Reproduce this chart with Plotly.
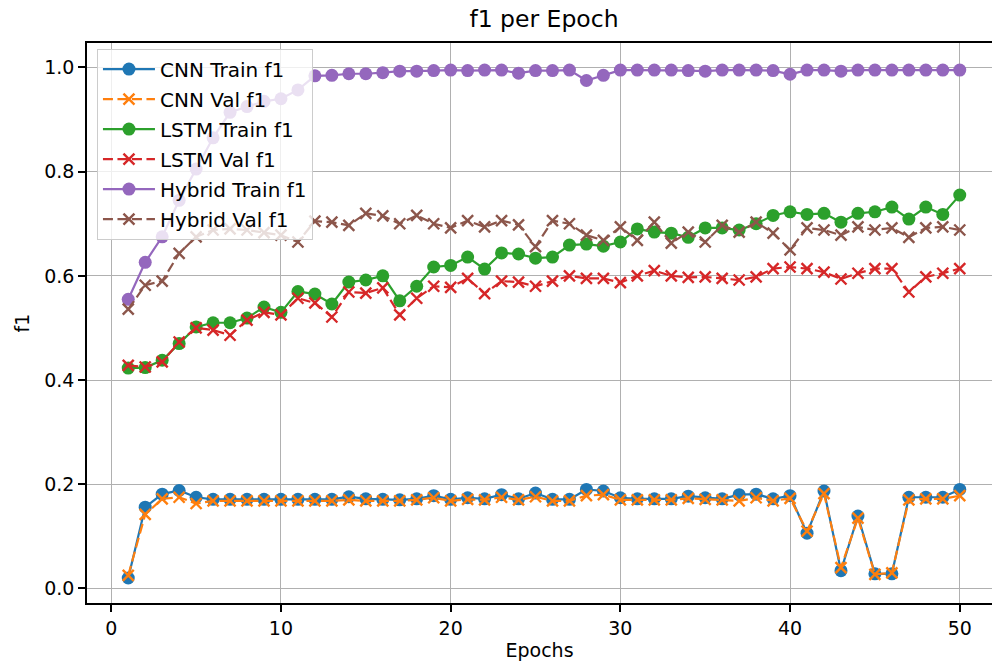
import plotly.graph_objects as go

epochs = list(range(1, 51))

cnn_train = [0.020, 0.156, 0.181, 0.188, 0.175, 0.171, 0.171, 0.171, 0.171, 0.171,
             0.171, 0.171, 0.171, 0.176, 0.172, 0.171, 0.170, 0.172, 0.178, 0.171,
             0.174, 0.172, 0.180, 0.172, 0.183, 0.171, 0.171, 0.190, 0.187, 0.174,
             0.172, 0.172, 0.172, 0.177, 0.174, 0.172, 0.180, 0.181, 0.172, 0.178,
             0.106, 0.187, 0.034, 0.139, 0.028, 0.028, 0.175, 0.175, 0.175, 0.190]
cnn_val = [0.025, 0.142, 0.172, 0.175, 0.163, 0.168, 0.168, 0.168, 0.168, 0.168,
           0.168, 0.168, 0.168, 0.170, 0.168, 0.168, 0.168, 0.170, 0.174, 0.168,
           0.171, 0.170, 0.175, 0.170, 0.176, 0.168, 0.168, 0.178, 0.180, 0.170,
           0.170, 0.170, 0.170, 0.173, 0.171, 0.170, 0.168, 0.174, 0.168, 0.173,
           0.110, 0.182, 0.040, 0.135, 0.027, 0.030, 0.170, 0.172, 0.172, 0.178]
lstm_train = [0.423, 0.424, 0.438, 0.470, 0.502, 0.510, 0.510, 0.519, 0.540, 0.530,
              0.570, 0.565, 0.546, 0.588, 0.592, 0.600, 0.552, 0.580, 0.617, 0.620,
              0.636, 0.613, 0.644, 0.642, 0.634, 0.636, 0.659, 0.661, 0.657, 0.665,
              0.690, 0.684, 0.682, 0.674, 0.692, 0.692, 0.688, 0.700, 0.716, 0.723,
              0.718, 0.720, 0.703, 0.720, 0.723, 0.732, 0.709, 0.732, 0.718, 0.755]
lstm_val = [0.428, 0.425, 0.435, 0.473, 0.500, 0.496, 0.486, 0.515, 0.530, 0.525,
            0.557, 0.548, 0.521, 0.569, 0.567, 0.577, 0.525, 0.557, 0.580, 0.578,
            0.595, 0.566, 0.590, 0.588, 0.580, 0.590, 0.600, 0.595, 0.595, 0.587,
            0.600, 0.610, 0.600, 0.597, 0.598, 0.595, 0.592, 0.598, 0.614, 0.617,
            0.614, 0.607, 0.594, 0.605, 0.614, 0.614, 0.569, 0.598, 0.605, 0.614]
hybrid_train = [0.555, 0.626, 0.675, 0.745, 0.805, 0.865, 0.914, 0.925, 0.935, 0.940,
                0.957, 0.984, 0.985, 0.988, 0.988, 0.990, 0.993, 0.993, 0.994, 0.995,
                0.994, 0.995, 0.995, 0.989, 0.994, 0.994, 0.995, 0.975, 0.985, 0.995,
                0.995, 0.995, 0.995, 0.994, 0.993, 0.995, 0.995, 0.995, 0.994, 0.987,
                0.995, 0.995, 0.993, 0.995, 0.995, 0.995, 0.995, 0.995, 0.995, 0.995]
hybrid_val = [0.536, 0.582, 0.590, 0.643, 0.675, 0.688, 0.690, 0.688, 0.683, 0.678,
              0.665, 0.705, 0.703, 0.697, 0.720, 0.715, 0.700, 0.716, 0.700, 0.692,
              0.706, 0.694, 0.706, 0.698, 0.656, 0.706, 0.700, 0.678, 0.668, 0.694,
              0.668, 0.703, 0.663, 0.684, 0.665, 0.697, 0.684, 0.703, 0.682, 0.650,
              0.692, 0.688, 0.678, 0.694, 0.688, 0.692, 0.674, 0.692, 0.694, 0.688]

series = [
    ("CNN Train f1", cnn_train, "#1f77b4", "train"),
    ("CNN Val f1", cnn_val, "#ff7f0e", "val"),
    ("LSTM Train f1", lstm_train, "#2ca02c", "train"),
    ("LSTM Val f1", lstm_val, "#d62728", "val"),
    ("Hybrid Train f1", hybrid_train, "#9467bd", "train"),
    ("Hybrid Val f1", hybrid_val, "#8c564b", "val"),
]

fig = go.Figure()
for i, (name, vals, color, kind) in enumerate(series):
    if kind == "train":
        line = dict(color=color, width=2.2)
        marker = dict(symbol="circle", size=13, color=color)
    else:
        line = dict(color=color, width=2.2, dash="10px,4.5px")
        marker = dict(symbol="x-thin", size=11, color=color, line=dict(color=color, width=2.4))
    fig.add_trace(go.Scatter(x=epochs, y=vals, name=name, mode="lines+markers",
                             line=line, marker=marker, legendgroup=f"g{i}"))

fig.update_layout(
    width=992, height=663,
    margin=dict(l=87, r=0, t=43, b=60),
    paper_bgcolor="white", plot_bgcolor="white",
    font=dict(family="DejaVu Sans", size=19, color="black"),
    title=dict(text="f1 per Epoch", x=544/992, xref="container", xanchor="center",
               y=1 - 19/663, yanchor="middle", font=dict(size=23.5, color="black")),
    showlegend=True,
    legend=dict(x=0.011, y=0.99, xanchor="left", yanchor="top",
                bgcolor="rgba(255,255,255,0.8)", bordercolor="#cccccc", borderwidth=1,
                font=dict(size=20, color="black"), itemwidth=52,
                traceorder="grouped", tracegroupgap=1),
    xaxis=dict(range=[-1.43, 51.9], tickmode="array", tickvals=[0, 10, 20, 30, 40, 50],
               showgrid=True, gridcolor="#b0b0b0", gridwidth=1.2,
               showline=True, linecolor="black", linewidth=1.5, mirror=True,
               ticks="outside", ticklen=7, tickwidth=1.5, tickcolor="black", zeroline=False,
               automargin=False,
               title=dict(text="Epochs", font=dict(size=19), standoff=6)),
    yaxis=dict(range=[-0.028, 1.047], tickmode="array",
               tickvals=[0.0, 0.2, 0.4, 0.6, 0.8, 1.0], tickformat=".1f",
               showgrid=True, gridcolor="#b0b0b0", gridwidth=1.2,
               showline=True, linecolor="black", linewidth=1.5, mirror=False,
               ticks="outside", ticklen=7, tickwidth=1.5, tickcolor="black", zeroline=False,
               automargin=False,
               title=dict(text="f1", font=dict(size=19), standoff=10)),
)

fig.write_html("out.html")
